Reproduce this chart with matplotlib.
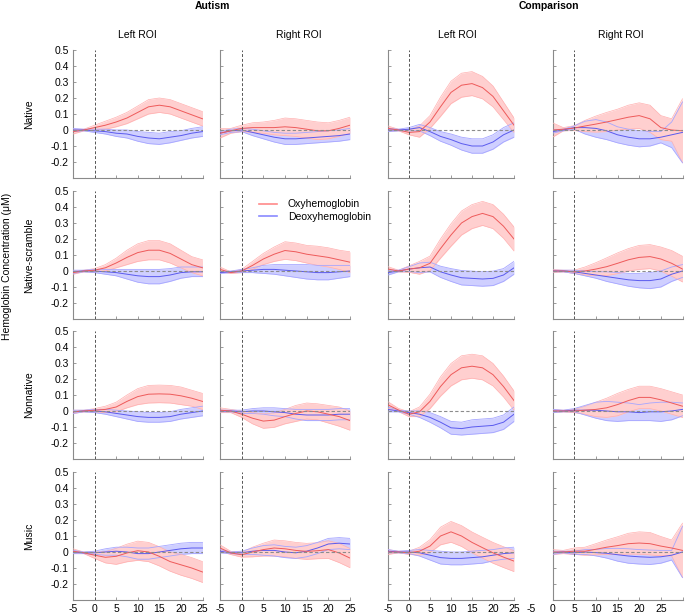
import matplotlib
matplotlib.use("Agg")
import matplotlib.pyplot as plt
from matplotlib.lines import Line2D
import numpy as np

# time axis (s), sampled every 2.5 s
time = [-5, -2.5, 0, 2.5, 5, 7.5, 10, 12.5, 15, 17.5, 20, 22.5, 25]

conditions = ["Native", "Native-scramble", "Nonnative", "Music"]
groups = ["Autism", "Comparison"]
rois = ["Left ROI", "Right ROI"]

# ---- Native ----
oxy_AL_native = [-0.01, 0.0, 0.015, 0.03, 0.05, 0.075, 0.11, 0.145, 0.155, 0.145, 0.12, 0.095, 0.07]
oxy_AL_native_se = [0.015, 0.005, 0.015, 0.025, 0.03, 0.035, 0.04, 0.045, 0.045, 0.045, 0.045, 0.045, 0.045]
deoxy_AL_native = [0.0, 0.0, -0.005, -0.01, -0.02, -0.025, -0.04, -0.05, -0.055, -0.045, -0.035, -0.02, -0.01]
deoxy_AL_native_se = [0.01, 0.005, 0.01, 0.015, 0.02, 0.025, 0.03, 0.035, 0.035, 0.035, 0.03, 0.03, 0.03]
oxy_AR_native = [-0.02, -0.005, 0.01, 0.015, 0.015, 0.015, 0.02, 0.015, 0.005, -0.005, -0.005, 0.01, 0.03]
oxy_AR_native_se = [0.03, 0.015, 0.02, 0.03, 0.035, 0.045, 0.055, 0.055, 0.055, 0.055, 0.05, 0.05, 0.05]
deoxy_AR_native = [-0.02, -0.005, 0.0, -0.015, -0.03, -0.045, -0.055, -0.055, -0.05, -0.045, -0.04, -0.035, -0.025]
deoxy_AR_native_se = [0.01, 0.01, 0.01, 0.02, 0.025, 0.03, 0.035, 0.035, 0.035, 0.035, 0.035, 0.035, 0.035]
oxy_CL_native = [0.01, 0.0, -0.015, -0.01, 0.05, 0.145, 0.235, 0.28, 0.29, 0.265, 0.21, 0.12, 0.03]
oxy_CL_native_se = [0.015, 0.005, 0.015, 0.035, 0.04, 0.06, 0.07, 0.075, 0.075, 0.07, 0.065, 0.055, 0.045]
deoxy_CL_native = [0.0, 0.0, 0.005, 0.015, -0.01, -0.04, -0.06, -0.085, -0.1, -0.1, -0.075, -0.03, 0.0]
deoxy_CL_native_se = [0.01, 0.005, 0.01, 0.02, 0.025, 0.03, 0.035, 0.04, 0.045, 0.045, 0.045, 0.045, 0.045]
oxy_CR_native = [0.0, 0.005, 0.012, 0.025, 0.037, 0.05, 0.065, 0.08, 0.09, 0.07, 0.015, 0.0, -0.005]
oxy_CR_native_se = [0.045, 0.01, 0.015, 0.035, 0.05, 0.06, 0.065, 0.075, 0.08, 0.085, 0.075, 0.07, 0.2]
deoxy_CR_native = [-0.01, 0.0, 0.015, 0.015, 0.01, -0.005, -0.03, -0.045, -0.055, -0.055, -0.045, -0.03, -0.015]
deoxy_CR_native_se = [0.01, 0.005, 0.01, 0.04, 0.055, 0.055, 0.05, 0.05, 0.05, 0.045, 0.035, 0.08, 0.19]

# ---- Native-scramble ----
oxy_AL_scramble = [-0.01, 0.0, 0.005, 0.02, 0.05, 0.085, 0.115, 0.13, 0.13, 0.11, 0.075, 0.04, 0.02]
oxy_AL_scramble_se = [0.01, 0.005, 0.01, 0.02, 0.03, 0.045, 0.055, 0.06, 0.06, 0.06, 0.055, 0.05, 0.05]
deoxy_AL_scramble = [-0.005, 0.0, 0.0, -0.005, -0.01, -0.02, -0.03, -0.035, -0.035, -0.025, -0.01, -0.005, -0.005]
deoxy_AL_scramble_se = [0.01, 0.005, 0.01, 0.015, 0.02, 0.03, 0.04, 0.045, 0.045, 0.04, 0.035, 0.03, 0.03]
oxy_AR_scramble = [0.01, -0.01, 0.0, 0.035, 0.075, 0.105, 0.128, 0.12, 0.105, 0.095, 0.085, 0.07, 0.055]
oxy_AR_scramble_se = [0.015, 0.005, 0.01, 0.025, 0.035, 0.045, 0.055, 0.055, 0.055, 0.06, 0.06, 0.06, 0.065]
deoxy_AR_scramble = [-0.01, -0.005, 0.0, 0.005, 0.01, 0.01, 0.005, 0.0, -0.005, -0.01, -0.01, -0.005, 0.0]
deoxy_AR_scramble_se = [0.005, 0.005, 0.01, 0.015, 0.025, 0.03, 0.035, 0.04, 0.045, 0.045, 0.045, 0.04, 0.035]
oxy_CL_scramble = [0.012, 0.0, 0.012, 0.02, 0.048, 0.14, 0.225, 0.3, 0.34, 0.36, 0.34, 0.28, 0.2]
oxy_CL_scramble_se = [0.015, 0.005, 0.02, 0.04, 0.045, 0.06, 0.07, 0.075, 0.075, 0.075, 0.075, 0.075, 0.075]
deoxy_CL_scramble = [-0.01, 0.0, 0.012, 0.02, 0.025, -0.005, -0.025, -0.042, -0.046, -0.05, -0.046, -0.025, 0.02]
deoxy_CL_scramble_se = [0.015, 0.005, 0.015, 0.03, 0.03, 0.035, 0.04, 0.045, 0.045, 0.045, 0.045, 0.04, 0.04]
oxy_CR_scramble = [0.0, 0.0, -0.005, 0.0, 0.012, 0.027, 0.048, 0.07, 0.085, 0.09, 0.075, 0.048, 0.012]
oxy_CR_scramble_se = [0.01, 0.005, 0.01, 0.025, 0.04, 0.055, 0.065, 0.07, 0.075, 0.075, 0.075, 0.08, 0.08]
deoxy_CR_scramble = [0.0, 0.0, -0.005, -0.015, -0.025, -0.035, -0.045, -0.055, -0.06, -0.06, -0.05, -0.02, 0.0]
deoxy_CR_scramble_se = [0.005, 0.005, 0.01, 0.015, 0.02, 0.03, 0.035, 0.04, 0.045, 0.05, 0.05, 0.045, 0.04]

# ---- Nonnative ----
oxy_AL_nonnative = [-0.005, 0.0, 0.005, 0.01, 0.025, 0.06, 0.09, 0.105, 0.107, 0.105, 0.095, 0.08, 0.06]
oxy_AL_nonnative_se = [0.01, 0.005, 0.01, 0.02, 0.03, 0.04, 0.05, 0.055, 0.055, 0.055, 0.055, 0.05, 0.05]
deoxy_AL_nonnative = [-0.005, 0.0, 0.0, -0.005, -0.015, -0.025, -0.035, -0.04, -0.04, -0.035, -0.02, -0.01, 0.0]
deoxy_AL_nonnative_se = [0.01, 0.005, 0.01, 0.015, 0.02, 0.025, 0.03, 0.03, 0.03, 0.03, 0.03, 0.03, 0.03]
oxy_AR_nonnative = [0.005, 0.0, -0.02, -0.045, -0.063, -0.057, -0.035, -0.015, 0.0, -0.005, -0.02, -0.035, -0.06]
oxy_AR_nonnative_se = [0.015, 0.01, 0.02, 0.035, 0.045, 0.045, 0.045, 0.05, 0.05, 0.05, 0.055, 0.06, 0.06]
deoxy_AR_nonnative = [0.0, 0.0, -0.005, 0.0, 0.0, -0.005, -0.01, -0.02, -0.025, -0.025, -0.025, -0.02, -0.02]
deoxy_AR_nonnative_se = [0.005, 0.005, 0.01, 0.015, 0.02, 0.025, 0.025, 0.03, 0.035, 0.035, 0.035, 0.035, 0.035]
oxy_CL_nonnative = [0.038, 0.006, -0.02, -0.005, 0.06, 0.153, 0.227, 0.27, 0.28, 0.27, 0.227, 0.153, 0.065]
oxy_CL_nonnative_se = [0.02, 0.01, 0.015, 0.03, 0.045, 0.06, 0.07, 0.075, 0.075, 0.075, 0.07, 0.065, 0.06]
deoxy_CL_nonnative = [0.01, 0.0, -0.01, -0.02, -0.04, -0.07, -0.105, -0.11, -0.1, -0.095, -0.09, -0.07, -0.02]
deoxy_CL_nonnative_se = [0.015, 0.005, 0.01, 0.02, 0.03, 0.035, 0.04, 0.04, 0.045, 0.045, 0.045, 0.045, 0.045]
oxy_CR_nonnative = [0.0, 0.0, 0.0, 0.005, 0.01, 0.02, 0.04, 0.065, 0.085, 0.085, 0.07, 0.05, 0.03]
oxy_CR_nonnative_se = [0.01, 0.005, 0.01, 0.025, 0.045, 0.06, 0.07, 0.07, 0.07, 0.07, 0.07, 0.07, 0.07]
deoxy_CR_nonnative = [0.0, 0.0, 0.005, 0.005, 0.005, 0.0, -0.005, -0.005, -0.01, -0.005, -0.005, 0.0, 0.01]
deoxy_CR_nonnative_se = [0.01, 0.005, 0.01, 0.03, 0.05, 0.06, 0.06, 0.055, 0.05, 0.055, 0.06, 0.055, 0.04]

# ---- Music ----
oxy_AL_music = [0.005, -0.005, -0.02, -0.033, -0.027, -0.006, 0.008, 0.0, -0.027, -0.06, -0.08, -0.1, -0.125]
oxy_AL_music_se = [0.015, 0.005, 0.02, 0.035, 0.05, 0.055, 0.06, 0.06, 0.06, 0.06, 0.065, 0.065, 0.065]
deoxy_AL_music = [0.0, -0.005, -0.005, 0.0, 0.005, 0.0, -0.01, -0.01, 0.0, 0.01, 0.02, 0.025, 0.025]
deoxy_AL_music_se = [0.01, 0.005, 0.01, 0.02, 0.025, 0.03, 0.035, 0.035, 0.035, 0.035, 0.035, 0.035, 0.035]
oxy_AR_music = [0.025, -0.006, -0.017, 0.0, 0.015, 0.025, 0.02, 0.01, 0.004, 0.008, 0.015, -0.006, -0.038]
oxy_AR_music_se = [0.02, 0.01, 0.015, 0.03, 0.04, 0.05, 0.05, 0.05, 0.05, 0.05, 0.055, 0.06, 0.06]
deoxy_AR_music = [0.005, -0.005, -0.005, 0.005, 0.01, 0.01, 0.0, -0.005, 0.005, 0.025, 0.05, 0.055, 0.05]
deoxy_AR_music_se = [0.01, 0.005, 0.01, 0.02, 0.03, 0.035, 0.035, 0.035, 0.035, 0.035, 0.035, 0.035, 0.035]
oxy_CL_music = [0.0, 0.0, -0.005, 0.005, 0.037, 0.1, 0.126, 0.1, 0.06, 0.027, -0.005, -0.032, -0.057]
oxy_CL_music_se = [0.015, 0.005, 0.01, 0.025, 0.04, 0.055, 0.065, 0.065, 0.065, 0.065, 0.065, 0.065, 0.065]
deoxy_CL_music = [0.005, 0.0, 0.0, -0.005, -0.02, -0.035, -0.04, -0.04, -0.035, -0.03, -0.02, -0.01, -0.005]
deoxy_CL_music_se = [0.01, 0.005, 0.01, 0.02, 0.03, 0.04, 0.04, 0.04, 0.04, 0.04, 0.035, 0.035, 0.035]
oxy_CR_music = [0.0, 0.0, 0.005, 0.005, 0.017, 0.03, 0.04, 0.052, 0.056, 0.052, 0.037, 0.025, 0.01]
oxy_CR_music_se = [0.015, 0.01, 0.02, 0.025, 0.035, 0.045, 0.055, 0.065, 0.07, 0.07, 0.06, 0.05, 0.17]
deoxy_CR_music = [-0.005, 0.0, -0.005, 0.0, -0.004, -0.008, -0.017, -0.025, -0.03, -0.033, -0.03, -0.02, 0.0]
deoxy_CR_music_se = [0.01, 0.005, 0.01, 0.015, 0.02, 0.03, 0.04, 0.045, 0.045, 0.045, 0.04, 0.03, 0.16]

# (oxy, oxy_se, deoxy, deoxy_se) per row (condition) and column (group/ROI)
panels = [
    [(oxy_AL_native, oxy_AL_native_se, deoxy_AL_native, deoxy_AL_native_se),
     (oxy_AR_native, oxy_AR_native_se, deoxy_AR_native, deoxy_AR_native_se),
     (oxy_CL_native, oxy_CL_native_se, deoxy_CL_native, deoxy_CL_native_se),
     (oxy_CR_native, oxy_CR_native_se, deoxy_CR_native, deoxy_CR_native_se)],
    [(oxy_AL_scramble, oxy_AL_scramble_se, deoxy_AL_scramble, deoxy_AL_scramble_se),
     (oxy_AR_scramble, oxy_AR_scramble_se, deoxy_AR_scramble, deoxy_AR_scramble_se),
     (oxy_CL_scramble, oxy_CL_scramble_se, deoxy_CL_scramble, deoxy_CL_scramble_se),
     (oxy_CR_scramble, oxy_CR_scramble_se, deoxy_CR_scramble, deoxy_CR_scramble_se)],
    [(oxy_AL_nonnative, oxy_AL_nonnative_se, deoxy_AL_nonnative, deoxy_AL_nonnative_se),
     (oxy_AR_nonnative, oxy_AR_nonnative_se, deoxy_AR_nonnative, deoxy_AR_nonnative_se),
     (oxy_CL_nonnative, oxy_CL_nonnative_se, deoxy_CL_nonnative, deoxy_CL_nonnative_se),
     (oxy_CR_nonnative, oxy_CR_nonnative_se, deoxy_CR_nonnative, deoxy_CR_nonnative_se)],
    [(oxy_AL_music, oxy_AL_music_se, deoxy_AL_music, deoxy_AL_music_se),
     (oxy_AR_music, oxy_AR_music_se, deoxy_AR_music, deoxy_AR_music_se),
     (oxy_CL_music, oxy_CL_music_se, deoxy_CL_music, deoxy_CL_music_se),
     (oxy_CR_music, oxy_CR_music_se, deoxy_CR_music, deoxy_CR_music_se)],
]

xticks = [-5, 0, 5, 10, 15, 20, 25]
yticks = [-0.3, -0.2, -0.1, 0, 0.1, 0.2, 0.3, 0.4, 0.5]
ytick_labels = ["", "-0.2", "-0.1", "0", "0.1", "0.2", "0.3", "0.4", "0.5"]

red_fill, red_edge, red_line = "#ffcfcf", "#ffb0b0", "#ee5a5a"
blue_fill, blue_edge, blue_line = "#cfcfff", "#a6a6ff", "#5a5aee"
axis_grey = "#8a8a8a"

plt.rcParams["font.family"] = ["Liberation Sans", "DejaVu Sans"]
plt.rcParams["font.size"] = 7.5

W, H = 685, 613
fig = plt.figure(figsize=(W / 100, H / 100), dpi=100)

# panel geometry in pixels
col_left = [73, 220, 388, 552.5]
col_width = [129.5, 130, 126, 130]
row_top = [50, 191, 331, 472]
row_h = 128
xmin, xmax = -5, 25

t = np.array(time)
for r in range(4):
    for c in range(4):
        ax = fig.add_axes([col_left[c] / W, 1 - (row_top[r] + row_h) / H,
                           col_width[c] / W, row_h / H])
        oxy, oxy_se, deo, deo_se = [np.array(a) for a in panels[r][c]]

        ax.fill_between(t, deo - deo_se, deo + deo_se, color=blue_fill, lw=0, zorder=1)
        ax.fill_between(t, oxy - oxy_se, oxy + oxy_se, color=red_fill, lw=0, zorder=2)
        for sgn in (-1, 1):
            ax.plot(t, oxy + sgn * oxy_se, color=red_edge, lw=0.5, zorder=3)
            ax.plot(t, deo + sgn * deo_se, color=blue_edge, lw=0.6, zorder=3)
        ax.plot(t, deo, color=blue_line, lw=0.7, zorder=4)
        ax.plot(t, oxy, color=red_line, lw=0.7, zorder=5)

        ax.axhline(0, color="#8c8c8c", ls=(0, (3, 2)), lw=0.8, zorder=6)
        ax.axvline(0, color="#555555", ls=(0, (3, 2)), lw=0.7, zorder=6)

        ax.set_xlim(xmin, xmax)
        ax.set_ylim(-0.3, 0.5)
        ax.set_xticks(xticks)
        ax.set_yticks(yticks)
        ax.set_yticklabels(ytick_labels if c == 0 else [""] * len(yticks))
        show_x = r == 3 and c < 3
        ax.set_xticklabels([str(v) for v in xticks] if show_x else [""] * len(xticks))
        ax.tick_params(direction="in", length=2.5, width=0.6, color=axis_grey,
                       labelsize=7.5, pad=3)
        for side in ("top", "right"):
            ax.spines[side].set_visible(False)
        for side in ("left", "bottom"):
            ax.spines[side].set_color(axis_grey)
            ax.spines[side].set_linewidth(0.8)

        if r == 1 and c == 1:
            handles = [Line2D([], [], color="#ff8a8a", lw=1.2),
                       Line2D([], [], color="#8a8aff", lw=1.2)]
            fig.legend(handles, ["Oxyhemoglobin", "Deoxyhemoglobin"],
                       loc="center left", bbox_to_anchor=(259 / W, 1 - 210.5 / H),
                       frameon=False, borderpad=0, borderaxespad=0,
                       handlelength=1.75, handletextpad=1.0, labelspacing=0.25,
                       fontsize=7.5)

# in the last column the tick labels sit one tick step to the left
px_per_unit = col_width[3] / (xmax - xmin)
step = xticks[1] - xticks[0]
label_y = row_top[3] + row_h + 3 / 72 * 100
for v in xticks:
    x_px = col_left[3] + (v - step - xmin) * px_per_unit
    fig.text(x_px / W, 1 - label_y / H, str(v), ha="center", va="top", fontsize=7.5)

# group titles and ROI titles
fig.text(212 / W, 1 - 6 / H, groups[0], weight="bold", ha="center", va="center")
fig.text(549 / W, 1 - 6 / H, groups[1], weight="bold", ha="center", va="center")
for x, name in zip([137, 299, 457, 621], rois + rois):
    fig.text(x / W, 1 - 35 / H, name, ha="center", va="center")

# row labels
for r, name in enumerate(conditions):
    fig.text(29 / W, 1 - (row_top[r] + row_h / 2) / H, name, rotation=90,
             ha="center", va="center")

fig.text(7 / W, 1 - 266 / H, "Hemoglobin Concentration (μM)", rotation=90,
         ha="center", va="center")

fig.savefig("out.png", dpi=100)
